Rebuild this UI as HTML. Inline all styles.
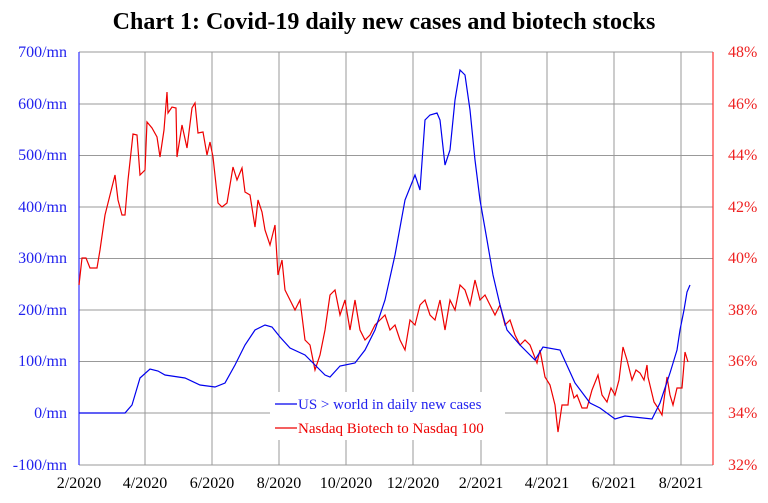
<!DOCTYPE html>
<html><head><meta charset="utf-8"><style>body{margin:0;background:#fff}svg{display:block}</style></head><body>
<svg width="768" height="503" xmlns="http://www.w3.org/2000/svg" font-family="Liberation Serif, serif">
<text x="384" y="29" text-anchor="middle" font-size="24" font-weight="bold">Chart 1: Covid-19 daily new cases and biotech stocks</text>
<g stroke="#999" stroke-width="1">
<line x1="79" y1="104" x2="713" y2="104"/><line x1="79" y1="155.5" x2="713" y2="155.5"/><line x1="79" y1="207" x2="713" y2="207"/><line x1="79" y1="258.5" x2="713" y2="258.5"/><line x1="79" y1="310" x2="713" y2="310"/><line x1="79" y1="361.5" x2="713" y2="361.5"/><line x1="79" y1="413" x2="713" y2="413"/><line x1="79" y1="52" x2="713" y2="52"/><line x1="79" y1="465" x2="713" y2="465"/>
<line x1="145" y1="52" x2="145" y2="465"/><line x1="212" y1="52" x2="212" y2="465"/><line x1="279" y1="52" x2="279" y2="465"/><line x1="346" y1="52" x2="346" y2="465"/><line x1="413" y1="52" x2="413" y2="465"/><line x1="481" y1="52" x2="481" y2="465"/><line x1="547" y1="52" x2="547" y2="465"/><line x1="614" y1="52" x2="614" y2="465"/><line x1="681" y1="52" x2="681" y2="465"/>
</g>
<rect x="270" y="392" width="235" height="48" fill="#fff"/>
<line x1="79" y1="52" x2="79" y2="465" stroke="#33f" stroke-width="1.2"/>
<line x1="713" y1="52" x2="713" y2="465" stroke="#f33" stroke-width="1.2"/>
<polyline fill="none" stroke="#e00" stroke-width="1.2" points="79,285 82,258 86,258 90,268 97,268 100,250 105,215 110,195 115,175 118,200 122,215 125,215 128,180 133,134 137,135 140,175 145,170 147,122 152,128 157,137 160,157 164,130 167,92 168,113 172,107 176,108 177,157 182,125 187,148 192,108 195,103 198,133 203,132 207,155 210,142 213,157 218,203 222,207 227,203 233,167 237,180 242,168 245,192 250,195 255,227 258,200 262,212 265,230 270,245 275,225 278,275 282,260 285,290 290,300 295,310 300,300 305,340 310,345 315,370 320,355 325,330 330,295 335,290 340,315 345,300 350,330 355,300 360,330 365,340 370,335 375,325 380,320 385,315 390,330 395,325 400,340 405,350 410,320 415,325 420,305 425,300 430,315 435,320 440,300 445,330 450,300 455,310 460,285 465,290 470,305 475,280 480,300 485,295 490,305 495,315 500,305 505,325 510,320 515,335 520,345 525,340 530,345 537,363 540,350 545,377 550,385 555,405 558,432 562,405 568,405 570,383 574,398 577,395 582,408 587,408 592,390 598,375 602,395 607,402 611,388 615,395 619,380 623,347 627,360 632,380 636,370 640,373 644,380 647,365 648,377 654,402 658,408 662,415 667,377 670,395 673,405 677,388 682,388 685,352 688,362"/>
<polyline fill="none" stroke="#00e" stroke-width="1.2" points="79,413 125,413 132,405 140,378 150,369 158,371 165,375 185,378 200,385 215,387 225,383 235,365 245,345 255,330 265,325 272,327 280,337 290,348 305,355 315,365 325,375 330,377 340,366 355,363 365,350 375,330 385,300 395,255 405,200 415,175 420,190 425,120 430,115 437,113 440,120 445,165 450,150 455,100 460,70 465,75 470,110 475,160 480,200 487,240 493,275 500,305 507,330 520,345 535,360 543,347 560,350 575,383 590,403 600,408 615,419 625,416 652,419 660,403 670,373 677,350 680,330 684,310 687,292 690,285"/>
<line x1="275" y1="404" x2="297" y2="404" stroke="#00e" stroke-width="1.2"/>
<text x="298" y="409" font-size="15" fill="#22e">US &gt; world in daily new cases</text>
<line x1="275" y1="428" x2="297" y2="428" stroke="#e00" stroke-width="1.2"/>
<text x="298" y="433" font-size="15" fill="#e00">Nasdaq Biotech to Nasdaq 100</text>
<g font-size="16" fill="#22e" text-anchor="end">
<text x="67" y="57">700/mn</text><text x="67" y="109">600/mn</text><text x="67" y="160">500/mn</text><text x="67" y="212">400/mn</text><text x="67" y="263">300/mn</text><text x="67" y="315">200/mn</text><text x="67" y="366">100/mn</text><text x="67" y="418">0/mn</text><text x="67" y="470">-100/mn</text>
</g>
<g font-size="16" fill="#e22">
<text x="728" y="57">48%</text><text x="728" y="109">46%</text><text x="728" y="160">44%</text><text x="728" y="212">42%</text><text x="728" y="263">40%</text><text x="728" y="315">38%</text><text x="728" y="366">36%</text><text x="728" y="418">34%</text><text x="728" y="470">32%</text>
</g>
<g font-size="16" fill="#000" text-anchor="middle">
<text x="79" y="488">2/2020</text><text x="145" y="488">4/2020</text><text x="212" y="488">6/2020</text><text x="279" y="488">8/2020</text><text x="346" y="488">10/2020</text><text x="413" y="488">12/2020</text><text x="481" y="488">2/2021</text><text x="547" y="488">4/2021</text><text x="614" y="488">6/2021</text><text x="681" y="488">8/2021</text>
</g>
</svg>
</body></html>
